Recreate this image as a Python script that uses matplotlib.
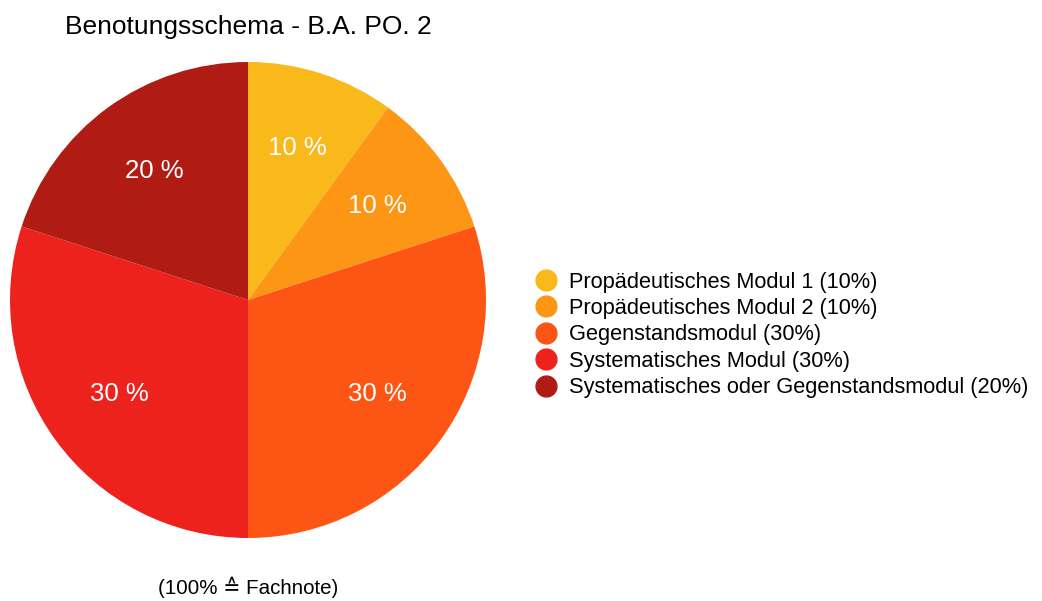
import matplotlib
matplotlib.use("Agg")
import matplotlib.pyplot as plt
from matplotlib.lines import Line2D

plt.rcParams["font.family"] = ["Liberation Sans", "DejaVu Sans"]

# data
categories = [
    "Propädeutisches Modul 1",
    "Propädeutisches Modul 2",
    "Gegenstandsmodul",
    "Systematisches Modul",
    "Systematisches oder Gegenstandsmodul",
]
shares = [10, 10, 30, 30, 20]
colors = ["#F9B91A", "#FC9614", "#FD5514", "#EE221D", "#B01C13"]

W, H = 1042, 601
fig = plt.figure(figsize=(W / 100, H / 100), dpi=100)

# pie centre (248, 300) px from top-left, radius ~238 px
cx, cy, box = 248, H - 300, 480
ax = fig.add_axes([(cx - box / 2) / W, (cy - box / 2) / H, box / W, box / H])
ax.pie(
    shares,
    colors=colors,
    startangle=90,
    counterclock=False,
    labels=None,
    autopct=lambda p: f"{p:.0f} %",
    pctdistance=0.67,
    textprops={"color": "white", "fontsize": 18.5},
    wedgeprops={"linewidth": 0},
)
lim = (box / 2) / 238
ax.set_xlim(-lim, lim)
ax.set_ylim(-lim, lim)
ax.set_aspect("equal")
ax.axis("off")

fig.text(cx / W, 1 - 27 / H, "Benotungsschema - B.A. PO. 2", ha="center", va="center", fontsize=19)
fig.text(cx / W, 1 - 587 / H, "(100% \u2259 Fachnote)", ha="center", va="center", fontsize=14.8)

handles = [
    Line2D([], [], marker="o", linestyle="", markersize=15, markerfacecolor=c, markeredgecolor=c)
    for c in colors
]
labels = [f"{name} ({v}%)" for name, v in zip(categories, shares)]
fig.legend(
    handles,
    labels,
    loc="center left",
    bbox_to_anchor=(525 / W, 1 - 335 / H),
    frameon=False,
    fontsize=15.7,
    handletextpad=0.5,
    labelspacing=0.25,
    handlelength=1.1,
    borderaxespad=0,
)

fig.savefig("out.png", dpi=100)
